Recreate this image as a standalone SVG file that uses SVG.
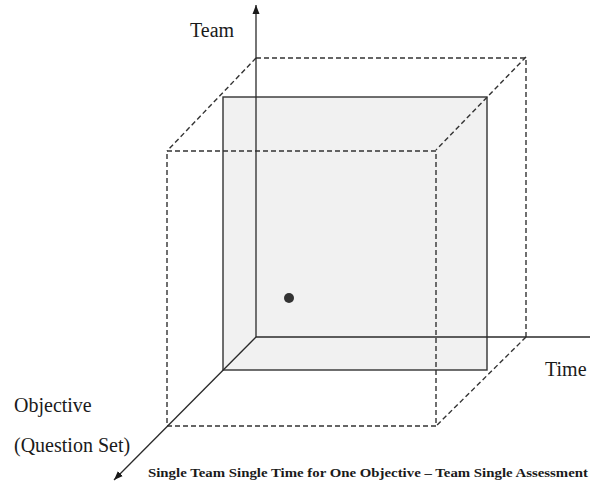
<svg xmlns="http://www.w3.org/2000/svg" width="590" height="483" viewBox="0 0 590 483">
<style>
.ax{stroke:#2a2a2a;stroke-width:1.3;fill:none}
.sol{stroke:#333;stroke-width:1.4;fill:#f1f1f1}
.dash{stroke:#333;stroke-width:1.4;fill:none;stroke-dasharray:5 3}
.lbl{font-family:"Liberation Serif","Times New Roman",serif;font-size:20px;fill:#1a1a1a}
.cap{font-family:"Liberation Serif","Times New Roman",serif;font-size:13px;font-weight:bold;fill:#1a1a1a}
</style>
<defs>
<marker id="arr" markerWidth="10" markerHeight="10" refX="9" refY="5" orient="auto" markerUnits="userSpaceOnUse">
<path d="M0,1.5 L9,5 L0,8.5 Z" fill="#1a1a1a"/>
</marker>
</defs>
<rect width="590" height="483" fill="#fff"/>
<g id="shaded">
<rect x="223" y="97" width="264" height="273" class="sol"/>
<circle cx="289" cy="298" r="5" fill="#333"/>
</g>
<g id="outer-cube">
<rect x="167" y="151" width="269" height="275" class="dash"/>
<path d="M256,58 H526 V337" class="dash"/>
<path d="M256,58 L167,151 M526,57 L436,150 M526,337 L436,426" class="dash"/>
</g>
<g id="axes">
<line x1="256" y1="337" x2="256" y2="5" class="ax" marker-end="url(#arr)"/>
<line x1="256" y1="337" x2="590" y2="337" class="ax"/>
<line x1="256" y1="337" x2="114" y2="480" class="ax" marker-end="url(#arr)"/>
</g>
<g id="labels">
<text x="190" y="37" class="lbl">Team</text>
<text x="545" y="376" class="lbl">Time</text>
<text x="14" y="412" class="lbl" font-size="21">Objective</text>
<text x="14" y="452" class="lbl" font-size="21">(Question Set)</text>
<text x="148" y="477" class="cap" textLength="440" lengthAdjust="spacingAndGlyphs">Single Team Single Time for One Objective – Team Single Assessment</text>
</g>
</svg>
